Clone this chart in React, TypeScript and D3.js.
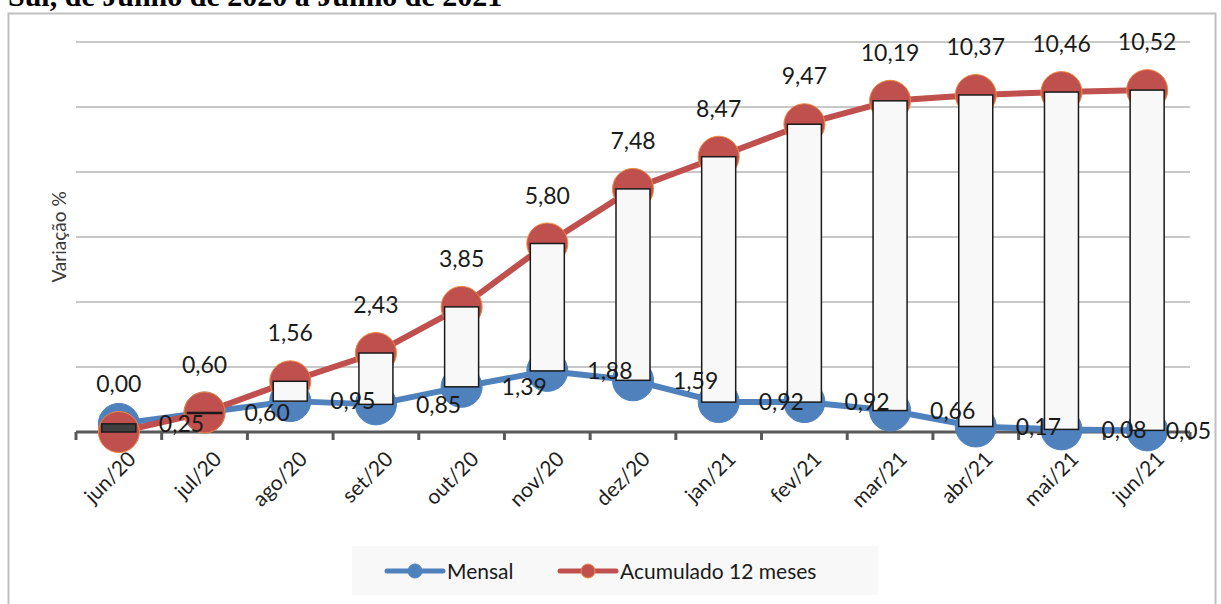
import React, { useRef, useEffect } from "react";
import * as d3 from "d3";

const categories = [
  "jun/20", "jul/20", "ago/20", "set/20", "out/20", "nov/20", "dez/20",
  "jan/21", "fev/21", "mar/21", "abr/21", "mai/21", "jun/21",
];
const mensal = [0.25, 0.6, 0.95, 0.85, 1.39, 1.88, 1.59, 0.92, 0.92, 0.66, 0.17, 0.08, 0.05];
const acumulado = [0.0, 0.6, 1.56, 2.43, 3.85, 5.8, 7.48, 8.47, 9.47, 10.19, 10.37, 10.46, 10.52];
const gridTicks = [0, 2, 4, 6, 8, 10, 12];

const FONT = "Lato, 'Open Sans', sans-serif";
const BLUE = "#4F81BD";
const RED = "#C0504D";
const fmt = (v: number) => d3.format(".2f")(v).replace(".", ",");

const App = () => {
  const svgRef = useRef<SVGSVGElement>(null);

  useEffect(() => {
    const svg = d3.select(svgRef.current);
    svg.selectAll("*").remove();

    const W = 1221, H = 604;
    const plot = { left: 76, right: 1190, top: 42, bottom: 432 };

    // scales
    const x = d3.scaleBand<string>().domain(categories).range([plot.left, plot.right]);
    const cx = (i: number) => (x(categories[i]) as number) + x.bandwidth() / 2;
    const y = d3.scaleLinear().domain([0, 12]).range([plot.bottom, plot.top]);

    // title (cut at the top of the page)
    svg.append("text")
      .attr("x", 8).attr("y", 6)
      .style("font-family", "'Liberation Serif', serif")
      .style("font-weight", "bold").style("font-size", "30px")
      .text("Sul, de Junho de 2020 a Junho de 2021");

    // chart frame
    svg.append("rect")
      .attr("x", 8.5).attr("y", 13.5).attr("width", 1207).attr("height", H)
      .attr("fill", "white").attr("stroke", "#BFBFBF").attr("stroke-width", 2);

    // gridlines
    svg.append("g").selectAll("line")
      .data(gridTicks.filter((t) => t > 0))
      .join("line")
      .attr("x1", plot.left).attr("x2", plot.right)
      .attr("y1", (d) => y(d)).attr("y2", (d) => y(d))
      .attr("stroke", "#C8C8C8").attr("stroke-width", 2);

    // y axis title
    svg.append("text")
      .attr("transform", "translate(66,237) rotate(-90)")
      .attr("text-anchor", "middle")
      .style("font-family", FONT).style("font-size", "19px")
      .attr("fill", "#3A3A3A")
      .text("Variação %");

    // x axis
    const axis = svg.append("g");
    axis.append("line")
      .attr("x1", plot.left).attr("x2", plot.right)
      .attr("y1", plot.bottom).attr("y2", plot.bottom)
      .attr("stroke", "#595959").attr("stroke-width", 3);
    axis.selectAll("line.tick")
      .data(d3.range(categories.length + 1))
      .join("line")
      .attr("class", "tick")
      .attr("x1", (i) => plot.left + i * x.step())
      .attr("x2", (i) => plot.left + i * x.step())
      .attr("y1", plot.bottom).attr("y2", plot.bottom + 8)
      .attr("stroke", "#595959").attr("stroke-width", 3);
    axis.selectAll("text")
      .data(categories)
      .join("text")
      .attr("transform", (d, i) => `translate(${cx(i) + 8},${plot.bottom + 18}) rotate(-45)`)
      .attr("text-anchor", "end")
      .attr("dy", "0.7em")
      .style("font-family", FONT).style("font-size", "21px")
      .attr("fill", "#1F1F1F")
      .text((d) => d);

    // series lines + markers
    const line = d3.line<number>().x((d, i) => cx(i)).y((d) => y(d));
    const series = [
      { values: mensal, color: BLUE, stroke: BLUE },
      { values: acumulado, color: RED, stroke: "#F0883C" },
    ];
    series.forEach((s) => {
      svg.append("path")
        .datum(s.values)
        .attr("d", line)
        .attr("fill", "none")
        .attr("stroke", s.color).attr("stroke-width", 6)
        .attr("stroke-linejoin", "round");
      svg.append("g").selectAll("circle")
        .data(s.values)
        .join("circle")
        .attr("cx", (d, i) => cx(i)).attr("cy", (d) => y(d))
        .attr("r", 20.5)
        .attr("fill", s.color)
        .attr("stroke", s.stroke).attr("stroke-width", 1);
    });

    // up/down bars
    const barW = 34;
    svg.append("g").selectAll("rect")
      .data(categories)
      .join("rect")
      .attr("x", (d, i) => cx(i) - barW / 2)
      .attr("width", barW)
      .attr("y", (d, i) => y(Math.max(mensal[i], acumulado[i])))
      .attr("height", (d, i) => Math.max(1, Math.abs(y(mensal[i]) - y(acumulado[i]))))
      .attr("fill", (d, i) => (acumulado[i] >= mensal[i] ? "#F8F8F8" : "#404040"))
      .attr("stroke", "#1A1A1A").attr("stroke-width", 1.5);

    // data labels
    const labelStyle = (sel: any) =>
      sel.style("font-family", FONT).style("font-size", "23px").attr("fill", "#1A1A1A");

    svg.append("g").selectAll("text")
      .data(acumulado)
      .join("text")
      .attr("x", (d, i) => cx(i)).attr("y", (d) => y(d) - 40)
      .attr("text-anchor", "middle")
      .call(labelStyle)
      .text((d) => fmt(d));

    svg.append("g").selectAll("text")
      .data(mensal)
      .join("text")
      .attr("x", (d, i) => cx(i) + 40).attr("y", (d) => y(d))
      .attr("dy", "0.36em")
      .call(labelStyle)
      .text((d) => fmt(d))
      .each(function () {
        const el = this as SVGTextElement;
        const w = el.getComputedTextLength();
        const xx = +el.getAttribute("x")!;
        if (xx + w > 1211) el.setAttribute("x", String(1211 - w));
      });

    // legend
    const lg = svg.append("g");
    lg.append("rect")
      .attr("x", 352).attr("y", 546).attr("width", 526).attr("height", 49)
      .attr("fill", "#F8F8F8");
    const items = [
      { name: "Mensal", color: BLUE, stroke: BLUE, x0: 387 },
      { name: "Acumulado 12 meses", color: RED, stroke: "#F0883C", x0: 560 },
    ];
    items.forEach((it) => {
      lg.append("line")
        .attr("x1", it.x0).attr("x2", it.x0 + 56)
        .attr("y1", 571).attr("y2", 571)
        .attr("stroke", it.color).attr("stroke-width", 5).attr("stroke-linecap", "round");
      lg.append("circle")
        .attr("cx", it.x0 + 28).attr("cy", 571).attr("r", 7)
        .attr("fill", it.color).attr("stroke", it.stroke).attr("stroke-width", 1);
      lg.append("text")
        .attr("x", it.x0 + 60).attr("y", 571).attr("dy", "0.36em")
        .style("font-family", FONT).style("font-size", "21px")
        .attr("fill", "#1A1A1A")
        .text(it.name);
    });

    svg.attr("width", W).attr("height", H);
  }, []);

  return (
    <svg
      ref={svgRef}
      width={1221}
      height={604}
      style={{ position: "absolute", left: 0, top: 0, display: "block" }}
    ></svg>
  );
};

export default App;
